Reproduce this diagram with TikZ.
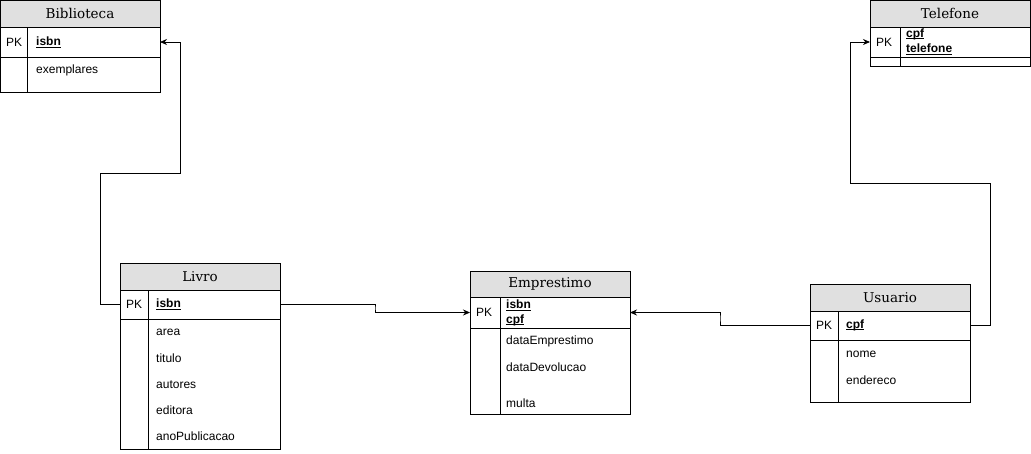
\documentclass[tikz,border=0pt]{standalone}
\usepackage{fontspec}
\setmainfont{Liberation Sans}
\newfontfamily\hdrfont{DejaVu Serif}
\usetikzlibrary{arrows.meta}
\definecolor{hdrgray}{RGB}{224,224,224}
\newcommand\ukey[1]{\sbox0{\bfseries #1}\rlap{\rule[-2pt]{\wd0}{0.9pt}}\usebox0}
\begin{document}
\begin{tikzpicture}[x=1pt,y=-1pt,
  tbl/.style={draw, line width=1pt, minimum width=160pt, anchor=north west, inner sep=0pt, outer sep=0pt},
  hdr/.style={tbl, fill=hdrgray, font=\hdrfont\fontsize{13.5}{16}\selectfont},
  lbl/.style={anchor=west, inner sep=0pt, yshift=-1.2pt, font=\fontsize{12}{14}\selectfont},
  conn/.style={line width=0.8pt, -{Stealth[length=7pt,width=6pt]}},
  divl/.style={line width=1pt}]
\useasboundingbox (0,0) rectangle (1031,453);
% Biblioteca
\node[hdr, minimum height=27pt] (bibh) at (0,0) {Biblioteca};
\node[tbl, minimum height=30pt] (bibpk) at (0,27) {};
\node[tbl, minimum height=35pt] (bibbody) at (0,57) {};
\draw[divl] ([xshift=27pt]bibpk.north west) -- ([xshift=27pt]bibbody.south west);
\node[lbl] (bibpkl) at (6,41) {PK};
\node[lbl] (bibisbn) at (36,41) {\ukey{isbn}};
\node[lbl] (bibex) at (36,69) {exemplares};
% Telefone
\node[hdr, minimum height=27pt] (telh) at (870,0) {Telefone};
\node[tbl, minimum height=30pt] (telpk) at (870,27) {};
\node[tbl, minimum height=9pt] (telbody) at (870,57) {};
\draw[divl] ([xshift=30pt]telpk.north west) -- ([xshift=30pt]telbody.south west);
\node[lbl] (telpkl) at (876,41) {PK};
\node[lbl] (telcpf) at (906,33) {\ukey{cpf}};
\node[lbl] (teltel) at (906,48) {\ukey{telefone}};
% Livro
\node[hdr, minimum height=27pt] (livh) at (120,263) {Livro};
\node[tbl, minimum height=29pt] (livpk) at (120,290) {};
\node[tbl, minimum height=130pt] (livbody) at (120,319) {};
\draw[divl] ([xshift=28pt]livpk.north west) -- ([xshift=28pt]livbody.south west);
\node[lbl] (livpkl) at (126,303) {PK};
\node[lbl] (livisbn) at (156,303) {\ukey{isbn}};
\node[lbl] (livarea) at (156,331) {area};
\node[lbl] (livtit) at (156,357) {titulo};
\node[lbl] (livaut) at (156,383) {autores};
\node[lbl] (livedi) at (156,409) {editora};
\node[lbl] (livano) at (156,435) {anoPublicacao};
% Emprestimo
\node[hdr, minimum height=26pt] (emph) at (470,271) {Emprestimo};
\node[tbl, minimum height=31pt] (emppk) at (470,297) {};
\node[tbl, minimum height=86pt] (empbody) at (470,328) {};
\draw[divl] ([xshift=30pt]emppk.north west) -- ([xshift=30pt]empbody.south west);
\node[lbl] (emppkl) at (476,311) {PK};
\node[lbl] (empisbn) at (506,304) {\ukey{isbn}};
\node[lbl] (empcpf) at (506,319) {\ukey{cpf}};
\node[lbl] (empde) at (506,340) {dataEmprestimo};
\node[lbl] (empdd) at (506,366) {dataDevolucao};
\node[lbl] (empmu) at (506,402) {multa};
% Usuario
\node[hdr, minimum height=27pt] (usuh) at (810,284) {Usuario};
\node[tbl, minimum height=29pt] (usupk) at (810,311) {};
\node[tbl, minimum height=62pt] (usubody) at (810,340) {};
\draw[divl] ([xshift=28pt]usupk.north west) -- ([xshift=28pt]usubody.south west);
\node[lbl] (usupkl) at (816,324) {PK};
\node[lbl] (usucpf) at (846,324) {\ukey{cpf}};
\node[lbl] (usunome) at (846,353) {nome};
\node[lbl] (usuend) at (846,379) {endereco};
% connectors
\coordinate (c1a) at (100,173);
\coordinate (c1b) at (180,173);
\coordinate (c2) at (375,308);
\coordinate (c3) at (720,318);
\coordinate (c4a) at (990,183);
\coordinate (c4b) at (850,183);
\draw[conn] (livpk.west) -| (c1a) -- (c1b) |- (bibpk.east);
\draw[conn] (livpk.east) -| (c2) |- (emppk.west);
\draw[conn] (usupk.west) -| (c3) |- (emppk.east);
\draw[conn] (usupk.east) -| (c4a) -- (c4b) |- (telpk.west);
\end{tikzpicture}
\end{document}
